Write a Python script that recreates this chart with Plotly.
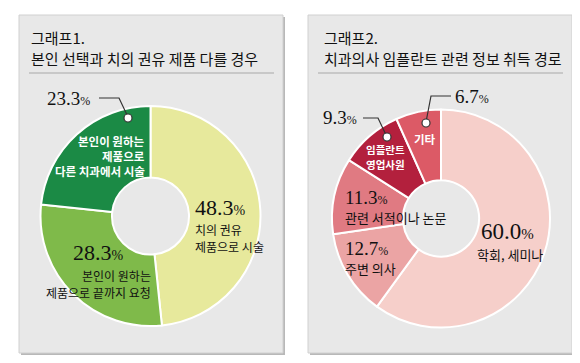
import plotly.graph_objects as go

# ---------------- data ----------------
left_title = ["그래프1.", "본인 선택과 치의 권유 제품 다를 경우"]
left_labels = ["치의 권유 제품으로 시술", "본인이 원하는 제품으로 끝까지 요청", "본인이 원하는 제품으로 다른 치과에서 시술"]
left_values = [48.3, 28.3, 23.3]
left_colors = ["#e7e99c", "#7fba4a", "#1b8a45"]

right_title = ["그래프2.", "치과의사 임플란트 관련 정보 취득 경로"]
right_labels = ["학회, 세미나", "주변 의사", "관련 서적이나 논문", "임플란트 영업사원", "기타"]
right_values = [60.0, 12.7, 11.3, 9.3, 6.7]
right_colors = ["#f6cfca", "#eba4a4", "#e07a82", "#b3203d", "#dc5a66"]

W, H = 580, 363
KFONT = "Noto Sans CJK KR"
NFONT = "Liberation Serif"


def px(x):
    return x / W


def py(y):
    return 1 - y / H


fig = go.Figure()


def donut(values, labels, colors, cx, cy, r):
    fig.add_trace(go.Pie(
        values=values, labels=labels, sort=False, direction="clockwise",
        rotation=0, hole=0.35, textinfo="none", hoverinfo="label+percent",
        marker=dict(colors=colors, line=dict(color="white", width=2)),
        domain=dict(x=[px(cx - r), px(cx + r)], y=[py(cy + r), py(cy - r)]),
        showlegend=False,
    ))


donut(left_values, left_labels, left_colors, 142.5, 208, 110)
donut(right_values, right_labels, right_colors, 433, 210.5, 109)

shapes = []
for x0, x1 in [(11, 275), (300, 564)]:
    shapes.append(dict(type="rect", xref="paper", yref="paper",
                       x0=px(x0 + 2), x1=px(x1 + 2), y0=py(347), y1=py(9),
                       fillcolor="#b8b8b8", line=dict(width=0), layer="below"))
    shapes.append(dict(type="rect", xref="paper", yref="paper",
                       x0=px(x0), x1=px(x1), y0=py(345), y1=py(7),
                       fillcolor="#e8e8e8", line=dict(color="#d0d0d0", width=1),
                       layer="below"))
shapes.append(dict(type="line", xref="paper", yref="paper", x0=px(21), x1=px(266),
                   y0=py(65), y1=py(65), line=dict(color="#a8a8a8", width=1)))
shapes.append(dict(type="line", xref="paper", yref="paper", x0=px(310), x1=px(555),
                   y0=py(65), y1=py(65), line=dict(color="#a8a8a8", width=1)))


def path(points):
    d = "M " + " L ".join(f"{px(x)} {py(y)}" for x, y in points)
    return dict(type="path", xref="paper", yref="paper", path=d,
                line=dict(color="#333333", width=1.2))


shapes.append(path([(91, 90), (111, 90), (120, 109)]))
shapes.append(path([(443, 88), (423, 88), (418, 114)]))
shapes.append(path([(355, 110), (370, 110), (379, 129)]))
for x, y in [(120, 110), (418, 115), (379, 129)]:
    shapes.append(dict(type="circle", xref="paper", yref="paper",
                       x0=px(x - 4), x1=px(x + 4), y0=py(y + 4), y1=py(y - 4),
                       fillcolor="white", line=dict(color="#333333", width=1.2)))

annotations = []


def text(x, y, t, size=13, color="#111111", anchor="left", font=KFONT, bold=False):
    if bold:
        t = "<b>" + t + "</b>"
    annotations.append(dict(x=px(x), y=py(y), xref="paper", yref="paper", text=t,
                            showarrow=False, xanchor=anchor, yanchor="middle",
                            borderpad=0,
                            font=dict(family=font, size=size, color=color)))


def lines(x, y0, step, items, **kw):
    for i, t in enumerate(items):
        text(x, y0 + i * step, t, **kw)


def pct(v, size):
    return f"{v:.1f}<span style='font-size:{int(size*0.68)}px'>%</span>"


# titles
lines(22, 30, 21, left_title, size=15)
lines(315, 30, 21, right_title, size=15)

# left donut
text(38, 90, pct(left_values[2], 19), 19, font=NFONT)
lines(138, 133, 15, ["본인이 원하는", "제품으로", "다른 치과에서 시술"],
      size=11.5, color="white", anchor="right", bold=True)
text(186, 199, pct(left_values[0], 22), 22, font=NFONT)
lines(186, 221, 17.8, ["치의 권유", "제품으로 시술"], size=12)
text(64, 244, pct(left_values[1], 22), 22, font=NFONT)
lines(144, 267, 17.8, ["본인이 원하는", "제품으로 끝까지 요청"], size=12, anchor="right")

# right donut
text(446, 88, pct(right_values[4], 19), 19, font=NFONT)
text(314, 110, pct(right_values[3], 19), 19, font=NFONT)
text(417, 131, "기타", 11.5, "white", "center", bold=True)
lines(377, 141.5, 15, ["임플란트", "영업사원"], size=10.5, color="white",
      anchor="center", bold=True)
text(336, 189, pct(right_values[2], 19), 19, font=NFONT)
text(336, 209, "관련 서적이나 논문", 13)
text(336, 240, pct(right_values[1], 19), 19, font=NFONT)
text(336, 260, "주변 의사", 13)
text(472, 223, pct(right_values[0], 23), 23, font=NFONT)
text(502, 246, "학회, 세미나", 13, anchor="center")

fig.update_layout(
    width=W, height=H, margin=dict(l=0, r=0, t=0, b=0),
    paper_bgcolor="white", plot_bgcolor="white",
    shapes=shapes, annotations=annotations,
)

fig.write_html("out.html")
